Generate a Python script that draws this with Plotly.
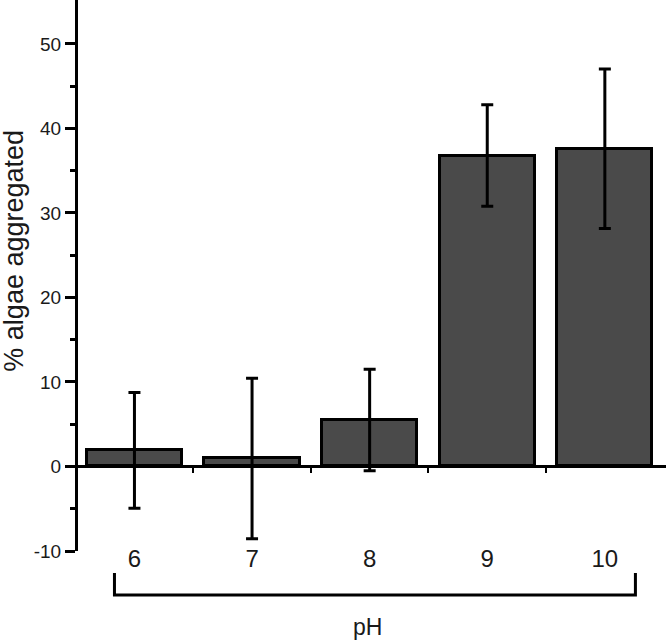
import plotly.graph_objects as go

# ---- data ----
ph_labels = ["6", "7", "8", "9", "10"]
pct_aggregated = [1.9, 0.95, 5.5, 36.8, 37.6]
err_sd = [6.85, 9.5, 6.0, 6.0, 9.45]
y_ticks = [-10, 0, 10, 20, 30, 40, 50]
y_tick_text = ["-10", "0", "10", "20", "30", "40", "50"]

FONT = "Liberation Sans, Arial, Helvetica, sans-serif"
TXT = "#1a1a1a"

idx = list(range(len(ph_labels)))
fig = go.Figure()
fig.add_trace(go.Bar(
    x=idx, y=pct_aggregated, width=0.81,
    marker=dict(color="#4a4a4a", line=dict(color="black", width=3)),
    error_y=dict(type="data", array=err_sd, visible=True,
                 color="black", thickness=3, width=6),
    showlegend=False, hoverinfo="skip",
))
# invisible trace to host the axis drawn at y=0 (tick marks between bars)
fig.add_trace(go.Scatter(x=[0], y=[0], xaxis="x2", mode="markers",
                         marker=dict(opacity=0), showlegend=False, hoverinfo="skip"))

y_min, y_max = -10, 55.2
x_rng = [-0.48, len(ph_labels) - 0.48]
zero_pos = (0 - y_min) / (y_max - y_min)

fig.update_layout(
    width=666, height=642,
    margin=dict(l=78, r=0, t=0, b=91),
    plot_bgcolor="white", paper_bgcolor="white",
    font=dict(family=FONT, color=TXT),
    bargap=0,
    xaxis=dict(
        anchor="free", position=0.016,
        range=x_rng, tickmode="array", tickvals=idx, ticktext=ph_labels,
        showline=False, ticks="", showgrid=False, zeroline=False,
        tickfont=dict(size=24, family=FONT, color=TXT),
    ),
    xaxis2=dict(
        overlaying="x", anchor="free", position=zero_pos, side="bottom",
        range=x_rng, tickmode="array",
        tickvals=[i + 0.5 for i in idx[:-1]],
        ticks="outside", ticklen=6, tickwidth=2, tickcolor="black",
        showticklabels=False, showline=False, showgrid=False, zeroline=False,
    ),
    yaxis=dict(
        range=[y_min, y_max], tickmode="array", tickvals=y_ticks, ticktext=y_tick_text,
        ticks="outside", ticklen=10, tickwidth=2.5, tickcolor="black",
        showline=True, linewidth=3, linecolor="black",
        showgrid=False,
        zeroline=True, zerolinewidth=3, zerolinecolor="black",
        tickfont=dict(size=19, family=FONT, color=TXT),
        minor=dict(tickmode="array", tickvals=[-5, 5, 15, 25, 35, 45],
                   ticks="outside", ticklen=5, tickwidth=2.5, tickcolor="black"),
    ),
    annotations=[
        dict(text="% algae aggregated", textangle=-90, xref="paper", yref="paper",
             x=-0.108, y=0.546, xanchor="center", yanchor="middle", showarrow=False,
             font=dict(size=27, family=FONT, color=TXT)),
        dict(text="pH", xref="paper", yref="paper", x=0.4915, y=-0.138,
             xanchor="center", yanchor="middle", showarrow=False,
             font=dict(size=23, family=FONT, color=TXT)),
    ],
    shapes=[
        dict(type="path", xref="x", yref="paper",
             path=f"M {-0.17} {-0.0399} L {-0.17} {-0.0799} L {len(ph_labels)-1+0.26} {-0.0799} L {len(ph_labels)-1+0.26} {-0.0399}",
             line=dict(color="black", width=3)),
    ],
)

fig.write_html("out.html", config={"displayModeBar": False},
               post_script="document.body.style.margin='0';")
